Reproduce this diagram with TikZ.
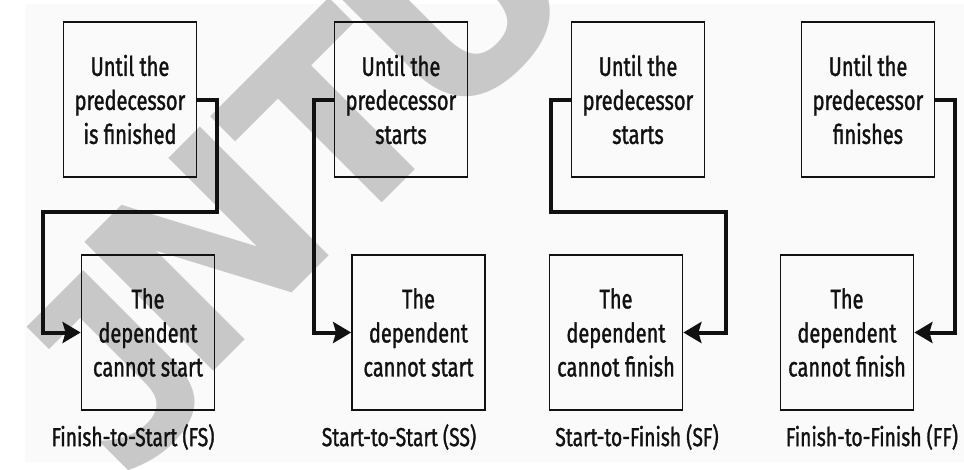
\documentclass[tikz,border=0pt]{standalone}
\usepackage{fontspec}
\setmainfont{Fira Sans}[FakeStretch=0.74,FakeBold=1.2]
\newfontfamily\wmfont{DejaVu Sans}
\newfontfamily\wmmono{DejaVu Sans Mono}
\usetikzlibrary{arrows.meta}
\definecolor{wm}{RGB}{200,200,200}
\definecolor{pagebg}{RGB}{250,250,250}
\definecolor{ink}{RGB}{17,17,17}
\begin{document}
\begin{tikzpicture}[x=1pt,y=-1pt,
  box/.style={draw=ink,line width=1.8pt,minimum width=133pt,minimum height=155pt,
    inner sep=0pt,align=center,text=ink,font=\fontsize{27}{34}\selectfont},
  conn/.style={draw=ink,line width=4pt,line join=miter,
    -{Stealth[length=18pt,width=21pt,inset=3pt]}},
  lbl/.style={text=ink,font=\fontsize{26}{34}\selectfont,inner sep=0pt},
  wmletter/.style={text=wm,rotate=45,anchor=base,inner sep=0pt,
    font=\wmfont\bfseries\fontsize{250}{250}\selectfont}]
\useasboundingbox (0,0) rectangle (964,469);
\fill[pagebg] (25,4) rectangle (964,462);
% watermark
\node[wmletter,font=\wmmono\bfseries\fontsize{250}{250}\selectfont] (wmj) at (179,433) {J};
\node[wmletter] (wmn) at (271.5,313.5) {N};
\node[wmletter] (wmt) at (398.5,186.5) {T};
\node[wmletter] (wmu) at (519,66) {U};
% boxes
\node[box] (b1t) at (130,99.5) {Until the\\predecessor\\is finished};
\node[box] (b1b) at (148,332.5) {The\\dependent\\cannot start};
\node[box] (b2t) at (401,99.5) {Until the\\predecessor\\starts};
\node[box] (b2b) at (418.5,332.5) {The\\dependent\\cannot start};
\node[box] (b3t) at (638,99.5) {Until the\\predecessor\\starts};
\node[box] (b3b) at (616,332.5) {The\\dependent\\cannot finish};
\node[box] (b4t) at (868,99.5) {Until the\\predecessor\\finishes};
\node[box] (b4b) at (847,332.5) {The\\dependent\\cannot finish};
% labels
\node[lbl] (l1) at (133,437) {Finish-to-Start (FS)};
\node[lbl] (l2) at (399,437) {Start-to-Start (SS)};
\node[lbl] (l3) at (637,437) {Start-to-Finish (SF)};
\node[lbl] (l4) at (872,437) {Finish-to-Finish (FF)};
% connectors
\coordinate (c1a) at (217,212);
\coordinate (c1b) at (43,332.5);
\draw[conn] (b1t.east) -| (c1a) -| (c1b) -- (b1b.west);
\coordinate (c2a) at (314,332.5);
\draw[conn] (b2t.west) -| (c2a) -- (b2b.west);
\coordinate (c3a) at (551,212);
\coordinate (c3b) at (726,332.5);
\draw[conn] (b3t.west) -| (c3a) -| (c3b) -- (b3b.east);
\coordinate (c4a) at (955,332.5);
\draw[conn] (b4t.east) -| (c4a) -- (b4b.east);
\end{tikzpicture}
\end{document}
